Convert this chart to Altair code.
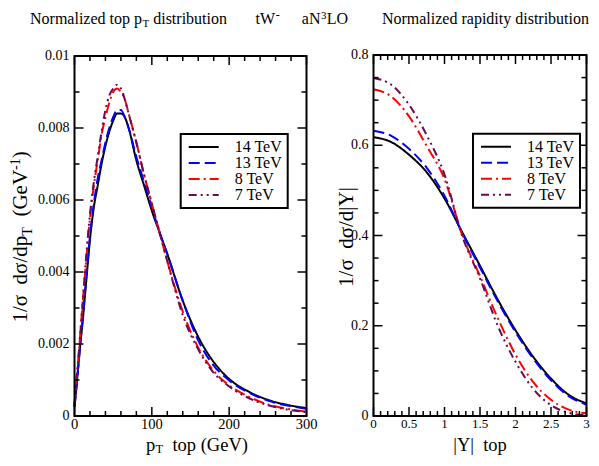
import altair as alt
import pandas as pd

FONT = "Liberation Serif, Times New Roman, Times, DejaVu Serif, serif"

energies = ["14 TeV", "13 TeV", "8 TeV", "7 TeV"]
line_colors = ["#000000", "#0000ff", "#ff0000", "#680a55"]
line_dashes = [[1, 0], [11, 5], [11, 4, 2, 4], [8, 4, 2, 4, 2, 4]]

# ---- left panel: normalized top pT distribution ----
pt_values = [0, 2.5, 5, 7.5, 10, 15, 20, 25, 30, 35, 40, 45, 50, 55, 60, 65, 70,
             80, 90, 100, 110, 120, 140, 160, 180, 200, 225, 250, 275, 300]
pt_14 = [0.00025, 0.0008, 0.0014, 0.0020, 0.0025, 0.0037, 0.0049, 0.0058, 0.0064, 0.0070,
         0.0075, 0.0079, 0.0082, 0.0084, 0.0084, 0.0083, 0.0080, 0.0071, 0.0064, 0.0057,
         0.0051, 0.0045, 0.0032, 0.0022, 0.0015, 0.00103, 0.00068, 0.00045, 0.00031, 0.00022]
pt_13 = [0.00025, 0.0008, 0.0014, 0.0020, 0.0026, 0.0038, 0.0050, 0.0059, 0.0066, 0.0071,
         0.0076, 0.0080, 0.0083, 0.0085, 0.0085, 0.0083, 0.0080, 0.0072, 0.0065, 0.0058,
         0.0051, 0.0045, 0.0032, 0.0021, 0.0014, 0.00099, 0.00065, 0.00043, 0.00029, 0.0002]
pt_8 = [0.0003, 0.0010, 0.0016, 0.0023, 0.0030, 0.0043, 0.0055, 0.0064, 0.0071, 0.0078,
        0.0083, 0.0087, 0.0090, 0.0091, 0.0090, 0.0088, 0.0084, 0.0076, 0.0067, 0.0059,
        0.0051, 0.0043, 0.0029, 0.0019, 0.00125, 0.00085, 0.00054, 0.00032, 0.0002, 0.00012]
pt_7 = [0.0003, 0.0010, 0.0016, 0.0023, 0.0030, 0.0044, 0.0056, 0.0065, 0.0072, 0.0079,
        0.0085, 0.0089, 0.0091, 0.0092, 0.0091, 0.0088, 0.0084, 0.0076, 0.0067, 0.0059,
        0.0051, 0.0043, 0.0028, 0.00185, 0.0012, 0.00082, 0.0005, 0.0003, 0.00018, 0.00011]

# ---- right panel: normalized rapidity distribution ----
rap_values = [0, 0.25, 0.5, 0.75, 1.0, 1.25, 1.5, 1.75, 2.0, 2.25, 2.5, 2.75, 3.0]
rap_14 = [0.618, 0.607, 0.579, 0.540, 0.482, 0.407, 0.333, 0.258, 0.190, 0.131, 0.083, 0.047, 0.028]
rap_13 = [0.632, 0.621, 0.592, 0.550, 0.488, 0.405, 0.329, 0.254, 0.186, 0.127, 0.079, 0.044, 0.025]
rap_8 = [0.724, 0.708, 0.664, 0.598, 0.525, 0.401, 0.310, 0.217, 0.136, 0.075, 0.036, 0.014, 0.006]
rap_7 = [0.749, 0.734, 0.690, 0.622, 0.535, 0.399, 0.305, 0.200, 0.120, 0.060, 0.024, 0.007, 0.002]

# ticks and tick labels
left_x_major = [0, 100, 200, 300]
left_x_labels = ["0", "100", "200", "300"]
left_x_minor = [20, 40, 60, 80, 120, 140, 160, 180, 220, 240, 260, 280]
left_y_major = [0, 0.002, 0.004, 0.006, 0.008, 0.01]
left_y_labels = ["0", "0.002", "0.004", "0.006", "0.008", "0.01"]
left_y_minor = [0.001, 0.003, 0.005, 0.007, 0.009]
right_x_major = [0, 0.5, 1, 1.5, 2, 2.5, 3]
right_x_labels = ["0", "0.5", "1", "1.5", "2", "2.5", "3"]
right_x_minor = [0.1, 0.2, 0.3, 0.4, 0.6, 0.7, 0.8, 0.9, 1.1, 1.2, 1.3, 1.4, 1.6, 1.7, 1.8,
                 1.9, 2.1, 2.2, 2.3, 2.4, 2.6, 2.7, 2.8, 2.9]
right_y_major = [0, 0.2, 0.4, 0.6, 0.8]
right_y_labels = ["0", "0.2", "0.4", "0.6", "0.8"]
right_y_minor = [0.05, 0.1, 0.15, 0.25, 0.3, 0.35, 0.45, 0.5, 0.55, 0.65, 0.7, 0.75]

# layout (pixels inside the single view)
W, H = 512, 360
LW = 232
RX0, RW = 299, 213
RY0, RY1 = -1, 360
MAJ, MIN = 9, 5
FIG = "\u2007"
SP = "\u00a0"

lxs = alt.Scale(domain=[0, 300], range=[0, LW], nice=False, zero=False)
lys = alt.Scale(domain=[0, 0.01], range=[H, 0], nice=False, zero=False)
rxs = alt.Scale(domain=[0, 3], range=[RX0, RX0 + RW], nice=False, zero=False)
rys = alt.Scale(domain=[0, 0.8], range=[RY1, RY0], nice=False, zero=False)


def label(s, x, y, size, angle=0, align="left", dx=0, dy=0, baseline="alphabetic"):
    return alt.Chart(pd.DataFrame({"t": [s]})).mark_text(
        font=FONT, fontSize=size, color="black", align=align,
        baseline=baseline, angle=angle, dx=dx, dy=dy
    ).encode(x=alt.value(x), y=alt.value(y), text="t:N")


def curves(xs, series, xs_scale, ys_scale, lx, ly):
    rows = []
    for e, vals in zip(energies, series):
        for xv, v in zip(xs, vals):
            rows.append({"x": xv, "v": v, "energy": e})
    df = pd.DataFrame(rows)
    legend = alt.Legend(
        title=None, orient="none", legendX=lx, legendY=ly, fillColor="white",
        strokeColor="black", padding=5, labelFont=FONT, labelFontSize=16,
        labelColor="black", symbolType="M-1,0H5", symbolSize=100, symbolStrokeWidth=2,
        symbolOffset=0, labelOffset=33, rowPadding=0,
        labelExpr="length(datum.label) < 6 ? '" + FIG + "' + datum.label : datum.label",
    )
    return alt.Chart(df).mark_line(strokeWidth=2, interpolate="monotone").encode(
        x=alt.X("x:Q", scale=xs_scale, axis=None),
        y=alt.Y("v:Q", scale=ys_scale, axis=None),
        color=alt.Color("energy:N", scale=alt.Scale(domain=energies, range=line_colors),
                        legend=legend, sort=energies),
        strokeDash=alt.StrokeDash("energy:N", scale=alt.Scale(domain=energies, range=line_dashes),
                                  legend=legend, sort=energies),
    )


def frame_and_ticks(xdom, ydom, xsc, ysc, xmaj, xmin, ymaj, ymin, x0, x1, y0, y1):
    layers = []
    for vals, ln in ((ymaj, MAJ), (ymin, MIN)):
        base = alt.Chart(pd.DataFrame({"v": vals})).mark_rule(strokeWidth=1.5, color="black")
        layers.append(base.encode(y=alt.Y("v:Q", scale=ysc, axis=None),
                                  x=alt.value(x0), x2=alt.value(x0 + ln)))
        layers.append(base.encode(y=alt.Y("v:Q", scale=ysc, axis=None),
                                  x=alt.value(x1 - ln), x2=alt.value(x1)))
    for vals, ln in ((xmaj, MAJ), (xmin, MIN)):
        base = alt.Chart(pd.DataFrame({"v": vals})).mark_rule(strokeWidth=1.5, color="black")
        layers.append(base.encode(x=alt.X("v:Q", scale=xsc, axis=None),
                                  y=alt.value(y0), y2=alt.value(y0 + ln)))
        layers.append(base.encode(x=alt.X("v:Q", scale=xsc, axis=None),
                                  y=alt.value(y1 - ln), y2=alt.value(y1)))
    fr = pd.DataFrame({"a": [xdom[0]], "b": [xdom[1]], "c": [ydom[0]], "d": [ydom[1]]})
    layers.append(alt.Chart(fr).mark_rect(filled=False, stroke="black", strokeWidth=2).encode(
        x=alt.X("a:Q", scale=xsc, axis=None), x2="b:Q",
        y=alt.Y("c:Q", scale=ysc, axis=None), y2="d:Q"))
    return layers


def tick_labels(vals, labs, sc, axis, size, pos):
    df = pd.DataFrame({"v": vals, "lab": labs})
    if axis == "x":
        return alt.Chart(df).mark_text(font=FONT, fontSize=size, color="black",
                                       align="center", baseline="top").encode(
            x=alt.X("v:Q", scale=sc, axis=None), y=alt.value(pos), text="lab:N")
    return alt.Chart(df).mark_text(font=FONT, fontSize=size, color="black",
                                   align="right", baseline="middle").encode(
        y=alt.Y("v:Q", scale=sc, axis=None), x=alt.value(pos), text="lab:N")


layers = []
layers.append(curves(pt_values, [pt_14, pt_13, pt_8, pt_7], lxs, lys, 106.2, 78))
layers.append(curves(rap_values, [rap_14, rap_13, rap_8, rap_7], rxs, rys, RX0 + 99.5, 77.7))
layers += frame_and_ticks([0, 300], [0, 0.01], lxs, lys, left_x_major, left_x_minor,
                          left_y_major, left_y_minor, 0, LW, 0, H)
layers += frame_and_ticks([0, 3], [0, 0.8], rxs, rys, right_x_major, right_x_minor,
                          right_y_major, right_y_minor, RX0, RX0 + RW, RY0, RY1)
layers.append(tick_labels(left_x_major, left_x_labels, lxs, "x", 14.5, 361.5))
layers.append(tick_labels(left_y_major, left_y_labels, lys, "y", 14, -5))
layers.append(tick_labels(right_x_major, right_x_labels, rxs, "x", 13, 361.5))
layers.append(tick_labels(right_y_major, right_y_labels, rys, "y", 14, RX0 - 5))

TS = 16
layers += [
    # header line
    label("Normalized top p", 67.5, -32.5, TS, align="right"),
    label("T", 68.0, -29, 11),
    label("distribution", 78.7, -32.5, TS),
    label("tW", 200.5, -32.5, TS, align="right"),
    label("-", 201.3, -37, 12),
    label("aN", 246.0, -32.5, TS, align="right"),
    label("3", 246.6, -37, 11),
    label("LO", 252.2, -32.5, TS),
    label("Normalized rapidity distribution", 514.5, -32.5, TS, align="right"),
    # left x title
    label("p", 80.75, 394.5, 18.5, align="right"),
    label("T", 81.0, 396.8, 12.5),
    label("top (GeV)", 97.9, 394.5, 18.5),
    # right x title
    label("|Y|" + SP + SP + "top", RX0 + RW / 2, 394.5, 18.5, align="center"),
    # left y title (rotated, pieces offset along the text direction)
    label("1/\u03c3" + SP + SP + "d\u03c3/dp", -47.5, 266.6, 21, angle=270),
    label("T", -47.5, 266.6, 14, angle=270, dx=86.9, dy=5),
    label("(GeV", -47.5, 266.6, 21, angle=270, dx=106.0),
    label("-1", -47.5, 266.6, 14, angle=270, dx=152.6, dy=-7.5),
    label(")", -47.5, 266.6, 21, angle=270, dx=164.3),
    # right y title
    label("1/\u03c3" + SP + SP + "d\u03c3/d|Y|", 278.5, 181, 21, angle=270, align="center"),
]

chart = alt.layer(*layers).resolve_scale(
    x="independent", y="independent", color="independent", strokeDash="independent"
).resolve_legend(
    color="independent", strokeDash="independent"
).properties(
    width=W, height=H, background="white",
    autosize=alt.AutoSizeParams(type="none"),
    padding={"left": 66.5, "top": 48, "right": 4.5, "bottom": 38.5},
).configure_view(stroke=None).configure_legend(strokeWidth=2)

chart.save("out.html", embed_options={"renderer": "svg", "actions": False})
